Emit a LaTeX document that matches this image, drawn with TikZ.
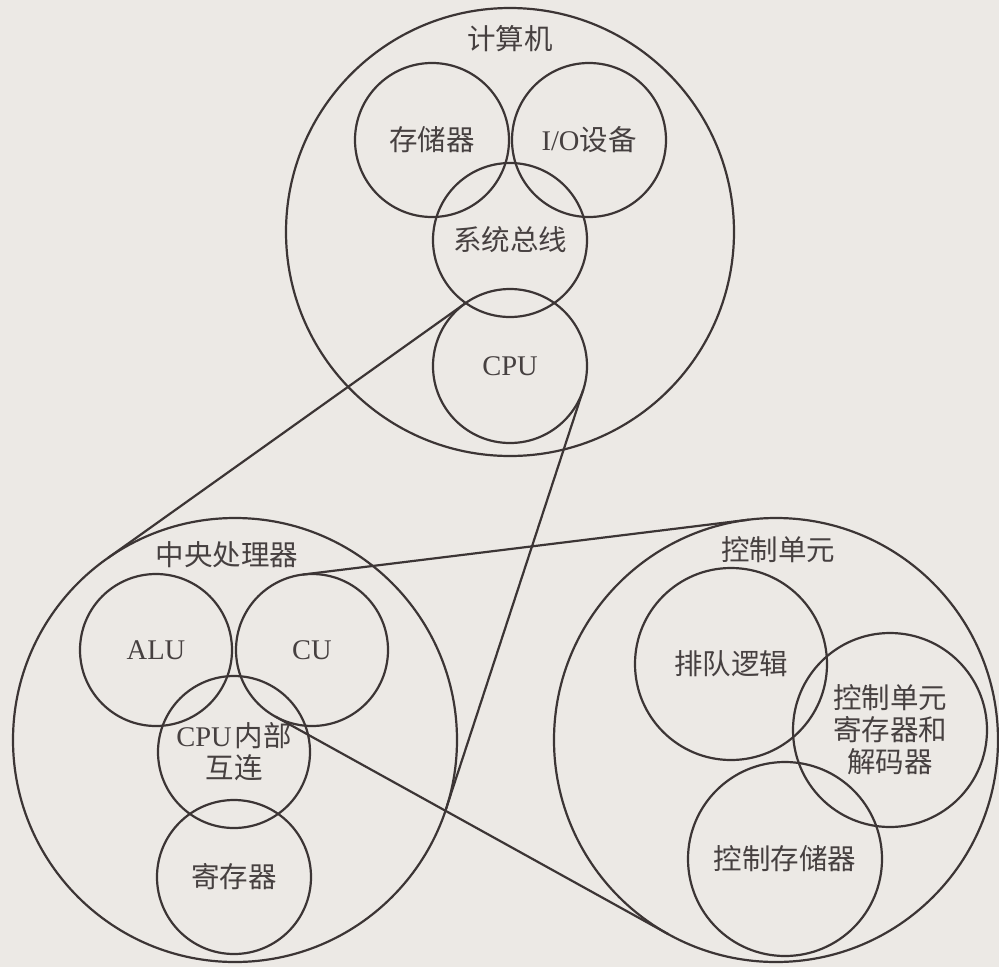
\documentclass[tikz,border=0pt]{standalone}
\usepackage{fontspec}
\setmainfont{Liberation Serif}
\newfontfamily\cjk{Noto Sans CJK SC}
\definecolor{bg}{RGB}{236,233,229}
\definecolor{ink}{RGB}{60,53,53}
\definecolor{txt}{RGB}{70,64,64}
\begin{document}
\begin{tikzpicture}[x=1pt,y=-1pt,
  ring/.style={draw=ink, line width=2.2pt, circle, inner sep=0pt, outer sep=0pt, minimum size=#1pt},
  lbl/.style={text=txt, font=\fontsize{28.5}{32}\selectfont, align=center, inner sep=0pt},
  link/.style={draw=ink, line width=2.2pt}]
\fill[bg] (0,0) rectangle (999,967);
\useasboundingbox (0,0) rectangle (999,967);
% computer
\node[ring=448] (comp) at (510,232) {};
\node[lbl] (compl) at (510,39) {\cjk 计算机};
\node[ring=154, lbl] (mem) at (432,140) {\cjk 存储器};
\node[ring=154, lbl] (io) at (589,140) {I/O{\cjk 设备}};
\node[ring=154, lbl] (bus) at (510,240) {\cjk 系统总线};
\node[ring=154, lbl] (cpu) at (510,366) {CPU};
% central processor
\node[ring=444] (cpuproc) at (235,740) {};
\node[lbl] (cpuprocl) at (227,555) {\cjk 中央处理器};
\node[ring=152, lbl] (alu) at (156,650) {ALU};
\node[ring=152, lbl] (cu) at (312,650) {CU};
\node[ring=152, lbl] (inter) at (234,752) {CPU\hspace{3pt}{\cjk 内部}\\{\cjk 互连}};
\node[ring=154, lbl] (reg) at (234,877) {\cjk 寄存器};
% control unit
\node[ring=444] (ctrl) at (776,740) {};
\node[lbl] (ctrll) at (778,550) {\cjk 控制单元};
\node[ring=192, lbl] (queue) at (731,664) {\cjk 排队逻辑};
\node[ring=194, lbl] (cureg) at (890,730) {\cjk 控制单元\\\cjk 寄存器和\\\cjk 解码器};
\node[ring=194, lbl] (cstore) at (785,859) {\cjk 控制存储器};
% zoom tangents
\draw[link] (cpu.125.47) -- (cpuproc.125.47);
\draw[link] (cpu.-18.13) -- (cpuproc.-18.13);
\draw[link] (cu.97) -- (ctrl.97);
\draw[link] (cu.241) -- (ctrl.241);
\end{tikzpicture}
\end{document}
